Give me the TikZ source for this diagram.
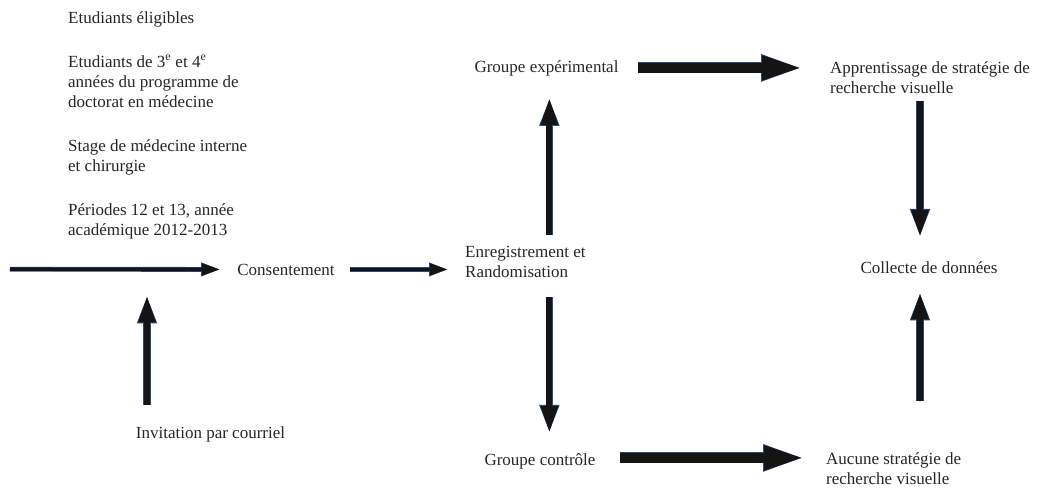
\documentclass[tikz,border=0pt]{standalone}
\usepackage{fontspec}
\setmainfont{Liberation Serif}
\usetikzlibrary{arrows.meta}
\definecolor{edgenavy}{HTML}{2B4C7E}
\definecolor{shaftblack}{HTML}{141414}
\tikzset{
    txt/.style={inner sep=0pt, text=black!85, font=\fontsize{17}{20}\selectfont},
    thinarrow/.style={draw=shaftblack, line width=3.5pt, -{Triangle[length=18pt, width=11pt]},
        preaction={draw=edgenavy, line width=4.8pt, -{Triangle[length=19pt, width=12.5pt]}}},
    midarrow/.style={draw=shaftblack, line width=6pt, -{Triangle[length=27pt, width=16pt]}, 
        preaction={draw=edgenavy, line width=7.5pt, -{Triangle[length=28pt, width=18pt]}}},
    bigarrow/.style={draw=shaftblack, line width=9.5pt, -{Triangle[length=41pt, width=22pt]},
        preaction={draw=edgenavy, line width=11pt, -{Triangle[length=42pt, width=24pt]}}},
}
\begin{document}
\begin{tikzpicture}[x=1pt, y=1pt]
    \useasboundingbox (0,0) rectangle (1038,-487);
    %eligibility text (base is the last line)
    \node[txt, anchor=base west, align=left] (eligible) at (68,-235)
        {Etudiants éligibles\\[24pt]
         Etudiants de 3\textsuperscript{e} et 4\textsuperscript{e}\\
         années du programme de\\
         doctorat en médecine\\[24pt]
         Stage de médecine interne\\
         et chirurgie\\[24pt]
         Périodes 12 et 13, année\\
         académique 2012-2013};
    %steps
    \node[txt, anchor=base] (consent) at (286,-275) {Consentement};
    \node[txt, anchor=base] (invite) at (210.5,-438) {Invitation par courriel};
    \node[txt, anchor=base west, align=left] (register) at (465,-277)
        {Enregistrement et\\Randomisation};
    \node[txt, anchor=base] (exper) at (546.5,-72) {Groupe expérimental};
    \node[txt, anchor=base] (control) at (540,-465) {Groupe contrôle};
    \node[txt, anchor=base west, align=left] (learn) at (830,-93)
        {Apprentissage de stratégie de\\recherche visuelle};
    \node[txt, anchor=base west, align=left] (nostrat) at (826,-484.5)
        {Aucune stratégie de\\recherche visuelle};
    \node[txt, anchor=base] (collect) at (929,-273) {Collecte de données};
    %free ends and arrow columns
    \coordinate (start) at (10,-269.2);
    \coordinate (inv-up) at ([xshift=-63.5pt]invite.north);
    \coordinate (reg-up) at ([xshift=24pt]register.north);
    \coordinate (reg-down) at ([xshift=24pt]register.south);
    \coordinate (learn-down) at ([xshift=-9pt]collect.north |- learn.south);
    \coordinate (nostrat-up) at ([xshift=-9pt]collect.south |- nostrat.north);
    %draw arrows
    \draw[thinarrow, shorten >=17pt] (start) -- (consent.west);
    \draw[thinarrow, shorten <=15pt, shorten >=17pt] (consent.east) -- (consent.east -| register.west);
    \draw[midarrow, shorten <=21pt, shorten >=20pt] (inv-up) -- (inv-up |- consent.south);
    \draw[midarrow, shorten <=11pt, shorten >=22pt] (reg-up) -- (reg-up |- exper.south);
    \draw[midarrow, shorten <=20pt, shorten >=20pt] (reg-down) -- (reg-down |- control.north);
    \draw[midarrow, shorten <=8pt, shorten >=24pt] (learn-down) -- (learn-down |- collect.north);
    \draw[midarrow, shorten <=51.5pt, shorten >=19pt] (nostrat-up) -- (nostrat-up |- collect.south);
    \draw[bigarrow, shorten <=19pt, shorten >=27pt] (exper.east) -- (exper.east -| learn.west);
    \draw[bigarrow, shorten <=24pt, shorten >=21pt] ([yshift=3pt]control.east) -- ([yshift=3pt]control.east -| nostrat.west);
\end{tikzpicture}
\end{document}
